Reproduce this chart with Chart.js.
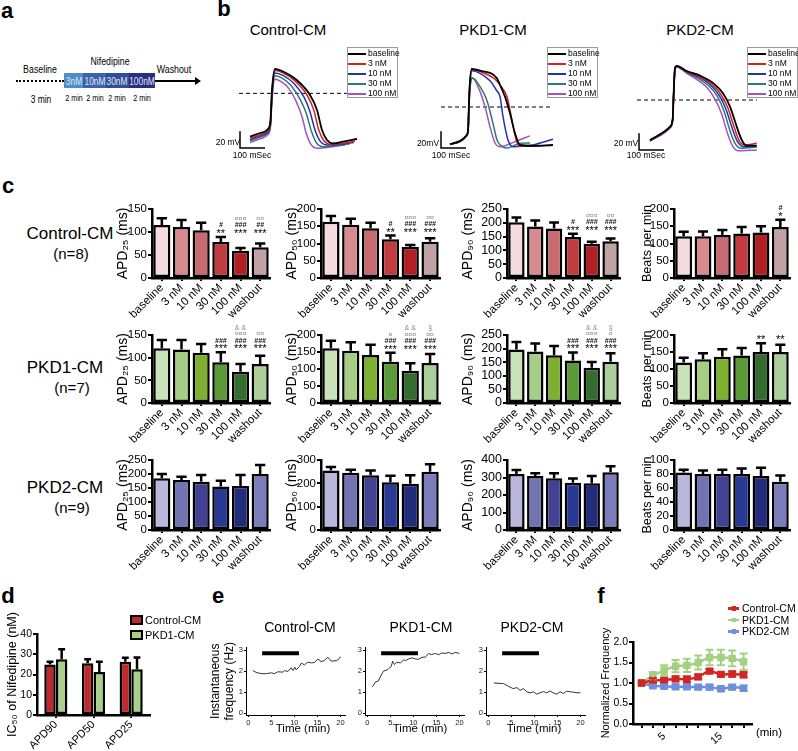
<!DOCTYPE html>
<html>
<head>
<meta charset="utf-8">
<script src="https://cdn.jsdelivr.net/npm/chart.js@4.4.1/dist/chart.umd.min.js"></script>
<style>
  html, body { margin: 0; padding: 0; background: #fff; }
  #fig { position: relative; width: 798px; height: 751px; overflow: hidden;
         font-family: "Liberation Sans", Arial, sans-serif; color: #000; }
  #fig canvas { position: absolute; }
  .t { position: absolute; white-space: nowrap; line-height: 1; transform: translate(-50%, -50%); }
  .tl { position: absolute; white-space: nowrap; line-height: 1; transform: translateY(-50%); }
  .nar { position: absolute; white-space: nowrap; line-height: 1; transform: translate(-50%, -50%) scaleX(0.8); }
  .pl { position: absolute; font-weight: bold; font-size: 22px; line-height: 1; transform: translate(-50%, -50%); }
  .lg { position: absolute; box-sizing: border-box; width: 51px; height: 51px; border: 1px solid #9a9a9a;
        background: #fff; font-size: 8.5px; }
  .lg div { height: 10px; line-height: 10px; white-space: nowrap; }
  .lg span { display: inline-block; width: 18px; height: 2px; vertical-align: middle; margin: 0 2px 0 0; }
</style>
</head>
<body>
<div id="fig"></div>
<script>
/* Nifedipine on Control / PKD1 / PKD2 cardiomyocytes */

// ---- panel a: protocol ----
var aDoses = ['3nM', '10nM', '30nM', '100nM'];
var aDoseTimes = ['2 min', '2 min', '2 min', '2 min'];

// ---- panel b: action potential traces (ms, mV) ----
var B_LEGEND = ['baseline', '3 nM', '10 nM', '30 nM', '100 nM'];

var bCtrlT0 = [140, 180, 212, 222, 228, 240, 272, 327, 380, 408, 428, 448, 472, 512, 568];
var bCtrlV0 = [-72, -67.6, -62.8, -52, -16, 9.2, 6.2, -4, -22, -40, -64, -76, -80, -78, -74.8];
var bCtrlT1 = [140, 180, 212, 222, 228, 240, 272, 320, 368, 395, 415, 436, 462, 510, 560];
var bCtrlV1 = [-74, -69.6, -64.5, -54, -18, 7.5, 4.5, -5, -22, -40, -64, -77, -81, -80, -77.5];
var bCtrlT2 = [140, 180, 212, 222, 228, 240, 272, 315, 355, 380, 400, 422, 450, 505, 555];
var bCtrlV2 = [-75.5, -71, -66, -56, -20, 4.5, 1.5, -8, -24, -42, -64, -78, -82, -81, -79];
var bCtrlT3 = [140, 180, 212, 222, 228, 240, 270, 305, 340, 365, 385, 405, 432, 490, 540];
var bCtrlV3 = [-77, -72.5, -67.5, -58, -24, 1, -2, -11, -27, -44, -65, -79, -84, -82.5, -80.5];
var bCtrlT4 = [140, 180, 212, 222, 228, 240, 268, 295, 325, 348, 365, 383, 410, 470, 520];
var bCtrlV4 = [-79, -74.5, -69.5, -60, -28, -3, -6.5, -14, -30, -48, -68, -81, -86, -84, -82];

var bPkd1T0 = [140, 207, 213, 215, 218, 227, 260, 327, 340, 360, 380, 400, 420, 472, 552];
var bPkd1V0 = [-80.8, -70, -60, -40, -15, 9.2, 7.2, -1.6, -10, -24, -44, -68, -82, -83, -82];
var bPkd1T1 = [140, 207, 213, 215, 218, 227, 260, 320, 345, 368, 385, 400, 415, 470, 552];
var bPkd1V1 = [-81, -70.5, -61, -41, -16, 8.5, 6, -3, -12, -24, -48, -70, -83, -83.5, -82];
var bPkd1T2 = [140, 207, 213, 215, 218, 227, 260, 300, 325, 340, 352, 372, 392, 470, 552];
var bPkd1V2 = [-81, -70.5, -61, -41, -17, 7, 4, -5, -16, -24, -48, -76, -84, -82, -75];
var bPkd1T3 = [140, 207, 213, 215, 218, 231, 260, 287, 312, 328, 345, 368, 420, 460];
var bPkd1V3 = [-81.5, -71, -62, -43, -20, -1.5, -12, -28, -56, -76, -83, -85.5, -80, -79.5];
var bPkd1T4 = [140, 207, 213, 215, 218, 227, 255, 280, 300, 320, 340, 400, 460];
var bPkd1V4 = [-81.5, -71, -62, -44, -24, -1, -14, -36, -60, -79.6, -84, -78, -71];

var bPkd2T0 = [140, 220, 231, 234, 240, 247, 287, 340, 393, 432, 460, 487, 507, 527, 567];
var bPkd2V0 = [-76, -60, -50, -25, 10.8, 13, 6.8, 1.2, -7.8, -20, -36, -60, -76, -82.8, -82.8];
var bPkd2T1 = [140, 220, 231, 234, 240, 247, 287, 338, 388, 425, 452, 478, 497, 520, 567];
var bPkd2V1 = [-76.5, -60.5, -50, -25, 10, 12.5, 6, 0, -9, -22, -38, -62, -77, -82, -80];
var bPkd2T2 = [140, 220, 231, 234, 240, 247, 287, 335, 382, 418, 445, 470, 490, 515, 567];
var bPkd2V2 = [-77, -61, -51, -26, 9.5, 12, 5.5, -0.5, -10, -23, -40, -63, -78, -84, -83];
var bPkd2T3 = [140, 220, 231, 234, 240, 247, 287, 330, 375, 410, 437, 460, 480, 505, 567];
var bPkd2V3 = [-77, -61, -51, -26, 10, 12.5, 5, -1.5, -11, -24, -42, -65, -80, -86, -84.5];
var bPkd2T4 = [140, 220, 231, 234, 240, 247, 287, 325, 368, 400, 427, 450, 470, 495, 567];
var bPkd2V4 = [-77.5, -61.5, -51.5, -27, 9, 11.5, 4, -3, -13, -27, -45, -68, -83, -89, -88];

// dashed reference level [mV, from ms, to ms] and scale bar origin [ms, mV]
var bCtrlDash = [-20, 96, 532], bPkd1Dash = [-36.4, 104, 552], bPkd2Dash = [-28, 88, 568];
var bCtrlBar = [100, -85.6], bPkd1Bar = [104, -85.6], bPkd2Bar = [96, -88];

// ---- panel c: APD and beating rate (mean, SEM) ----
var CATS = ['baseline', '3 nM', '10 nM', '30 nM', '100 nM', 'washout'];

var ctrlApd25 = [115, 111, 104, 78, 59, 67], ctrlApd25Sem = [15, 15, 16, 11, 6, 8];
var ctrlApd50 = [163, 154, 144, 112, 90, 105], ctrlApd50Sem = [17, 18, 16, 11, 6, 10];
var ctrlApd90 = [202, 187, 179, 149, 124, 133], ctrlApd90Sem = [17, 21, 22, 11, 7, 10];
var ctrlBpm = [121, 121, 125, 129, 132, 148], ctrlBpmSem = [13, 14, 14, 19, 18, 21];

var pkd1Apd25 = [121, 118, 111, 90, 69, 86], pkd1Apd25Sem = [18, 21, 19, 22, 17, 18];
var pkd1Apd50 = [161, 154, 141, 121, 95, 118], pkd1Apd50Sem = [22, 25, 30, 27, 22, 26];
var pkd1Apd90 = [197, 189, 176, 156, 130, 152], pkd1Apd90Sem = [27, 30, 34, 30, 21, 31];
var pkd1Bpm = [119, 129, 136, 140, 150, 150], pkd1BpmSem = [14, 17, 22, 22, 26, 21];

var pkd2Apd25 = [185, 179, 172, 155, 157, 200], pkd2Apd25Sem = [15, 11, 24, 21, 39, 32];
var pkd2Apd50 = [255, 245, 235, 205, 198, 250], pkd2Apd50Sem = [15, 13, 20, 27, 37, 32];
var pkd2Apd90 = [320, 309, 296, 270, 267, 330], pkd2Apd90Sem = [23, 15, 28, 25, 42, 35];
var pkd2Bpm = [82, 80, 80, 80, 77, 69], pkd2BpmSem = [4, 5, 6, 8, 12, 9];

// significance marks, top line first
var ctrlApd25Notes = ['', '', '', '#\n**', '\u00a4\u00a4\u00a4\n###\n***', '\u00a4\u00a4\n##\n***'];
var ctrlApd50Notes = ['', '', '', '#\n**', '\u00a4\u00a4\u00a4\n###\n***', '\u00a4\u00a4\n###\n***'];
var ctrlApd90Notes = ['', '', '', '#\n***', '\u00a4\u00a4\u00a4\n###\n***', '\u00a4\u00a4\n###\n***'];
var ctrlBpmNotes = ['', '', '', '', '', '#\n*'];
var pkd1Apd25Notes = ['', '', '', '###\n***', '& &\n\u00a4\u00a4\u00a4\n###\n***', '\u00a4\u00a4\n###\n***'];
var pkd1Apd50Notes = ['', '', '', '\u00a4\n###\n***', '& &\n\u00a4\u00a4\u00a4\n###\n***', '\u00a7\n\u00a4\u00a4\n###\n***'];
var pkd1Apd90Notes = ['', '', '', '###\n***', '& &\n\u00a4\u00a4\u00a4\n###\n***', '\u00a7\n\u00a4\n###\n***'];
var pkd1BpmNotes = ['', '', '', '', '**', '**'];

// ---- panel d: IC50 (nM) ----
var dCats = ['APD90', 'APD50', 'APD25'];
var dCtrl = [25, 25.5, 26.3], dCtrlSem = [1.3, 2, 2];
var dPkd1 = [27.5, 21.2, 22.6], dPkd1Sem = [5, 5.1, 5.8];

// ---- panel e: instantaneous frequency (min, Hz) ----
var eCtrlT = [1.0, 1.7, 2.8, 3.9, 5.0, 5.7, 6.4, 7.5, 7.9, 8.6, 9.3, 9.7, 10.1, 10.4, 11.1, 11.5, 12.2, 12.9, 13.7, 14.4, 15.1, 15.8, 16.5, 17.3, 18.0, 19.1, 19.6, 20.0];
var eCtrlHz = [2.03, 1.94, 1.88, 1.88, 1.92, 1.88, 1.97, 1.95, 2.03, 1.98, 2.16, 2.03, 2.19, 2.06, 2.22, 2.38, 2.30, 2.42, 2.39, 2.41, 2.58, 2.45, 2.50, 2.66, 2.47, 2.50, 2.55, 2.69];
var ePkd1T = [1.0, 1.4, 1.7, 2.4, 2.8, 3.2, 3.5, 4.3, 4.6, 5.2, 5.5, 5.9, 6.4, 7.2, 7.9, 8.3, 9.0, 9.7, 10.4, 11.1, 11.9, 12.6, 13.3, 13.9, 14.8, 15.5, 16.2, 16.9, 17.7, 18.4, 19.1, 20.0];
var ePkd1Hz = [1.25, 1.33, 1.48, 1.53, 1.72, 1.88, 2.00, 2.06, 2.11, 2.22, 2.47, 2.31, 2.42, 2.39, 2.53, 2.50, 2.58, 2.63, 2.58, 2.56, 2.66, 2.66, 2.84, 2.78, 2.84, 2.78, 2.86, 2.84, 2.89, 2.81, 2.89, 2.84];
var ePkd2T = [1.2, 3.3, 4.4, 5.4, 6.2, 6.9, 7.6, 8.4, 9.1, 9.8, 10.5, 11.2, 12.0, 12.7, 13.4, 14.1, 14.9, 15.6, 16.3, 17.0, 17.8, 18.5, 19.3, 20.0];
var ePkd2Hz = [1.44, 1.41, 1.28, 1.17, 1.22, 1.09, 1.17, 1.02, 0.97, 1.02, 0.91, 0.97, 1.03, 0.97, 1.06, 0.97, 0.91, 1.02, 0.94, 1.05, 1.02, 1.00, 0.97, 0.98];
var eDrug = [3, 11], eDrugLevel = 2.85;
var eXTicks = [0, 5, 10, 15, 20], eYTicks = [0, 1, 2, 3];

// ---- panel f: normalized frequency (mean, SEM) ----
var fTime = [1, 3, 5, 7, 9, 11, 13, 15, 17, 19];
var fCtrl = [1.00, 1.06, 1.07, 1.10, 1.09, 1.15, 1.29, 1.21, 1.22, 1.20];
var fCtrlSem = [0, 0.05, 0.05, 0.06, 0.07, 0.06, 0.05, 0.05, 0.06, 0.06];
var fPkd1 = [1.00, 1.18, 1.31, 1.41, 1.43, 1.50, 1.62, 1.62, 1.60, 1.52];
var fPkd1Sem = [0, 0.09, 0.12, 0.15, 0.16, 0.17, 0.19, 0.19, 0.19, 0.2];
var fPkd2 = [1.00, 0.93, 0.92, 0.91, 0.91, 0.90, 0.90, 0.86, 0.90, 0.87];
var fPkd2Sem = [0, 0.04, 0.05, 0.05, 0.05, 0.05, 0.06, 0.05, 0.05, 0.06];
var fYTicks = [0, 0.5, 1, 1.5, 2];

// ---- colours ----
var TRACE_COLORS = ['#000000', '#d42222', '#2232b0', '#2c7a70', '#a452c2'];
var CTRL_FILL = ['#f5dcde', '#d68b8f', '#c86b70', '#c13c41', '#b11e23', '#c1a2a5'];
var PKD1_FILL = ['#c9e2b9', '#a6cd86', '#7cb02e', '#5b9b37', '#346b2f', '#aacf99'];
var PKD2_FILL = ['#bab7dd', '#7273b3', '#424295', '#283a93', '#222b7c', '#7a7cbb'];
var RED = '#c0282c', GREEN = '#a8d088';
var F_COLORS = ['#d42424', '#a2d182', '#6f8fdc'];

var FONT = '"Liberation Sans", Arial, sans-serif';
Chart.defaults.font.family = FONT;
Chart.defaults.color = '#000';
Chart.defaults.animation = false;
Chart.defaults.events = [];
Chart.defaults.plugins.legend.display = false;
Chart.defaults.plugins.tooltip.enabled = false;

var fig = document.getElementById('fig');

function addCanvas(left, top, w, h) {
  var c = document.createElement('canvas');
  c.width = w; c.height = h;
  c.style.left = left + 'px'; c.style.top = top + 'px';
  c.style.width = w + 'px'; c.style.height = h + 'px';
  fig.appendChild(c);
  return c;
}

function put(txt, x, y, size, cls, css) {
  var d = document.createElement('div');
  d.className = cls || 't';
  d.textContent = txt;
  d.style.left = x + 'px'; d.style.top = y + 'px';
  if (size) d.style.fontSize = size + 'px';
  if (css) d.style.cssText += css;
  fig.appendChild(d);
  return d;
}

function block(x, y, w, h, css) {
  var d = document.createElement('div');
  d.style.cssText = 'position:absolute;left:' + x + 'px;top:' + y + 'px;width:' + w + 'px;height:' + h + 'px;' + (css || '');
  fig.appendChild(d);
  return d;
}

function pts(xs, ys) {
  return xs.map(function (x, i) { return { x: x, y: ys[i] }; });
}

/* --- plugins --- */

var errorBars = {
  id: 'errorBars',
  afterDatasetsDraw: function (chart) {
    var ctx = chart.ctx;
    for (var i = chart.data.datasets.length - 1; i >= 0; i--) {
      var ds = chart.data.datasets[i];
      if (!ds.errors) continue;
      var meta = chart.getDatasetMeta(i);
      var ys = chart.scales[meta.yAxisID];
      ctx.save();
      ctx.strokeStyle = ds.errorColor || '#000';
      ctx.lineWidth = ds.errorWidth || 2.5;
      meta.data.forEach(function (el, j) {
        var d = ds.data[j];
        var v = typeof d === 'object' ? d.y : d;
        var e = ds.errors[j];
        if (!e) return;
        var hi = ys.getPixelForValue(v + e);
        var lo = ys.getPixelForValue(ds.bothWays ? v - e : v);
        var half = ds.capHalf || el.width * 0.3;
        ctx.beginPath();
        ctx.moveTo(el.x, lo); ctx.lineTo(el.x, hi);
        ctx.moveTo(el.x - half, hi); ctx.lineTo(el.x + half, hi);
        if (ds.bothWays) { ctx.moveTo(el.x - half, lo); ctx.lineTo(el.x + half, lo); }
        ctx.stroke();
      });
      ctx.restore();
    }
  }
};

var starNotes = {
  id: 'starNotes',
  afterDatasetsDraw: function (chart) {
    var ds = chart.data.datasets[0];
    if (!ds.notes) return;
    var meta = chart.getDatasetMeta(0), ys = chart.scales.y, ctx = chart.ctx;
    var top = Infinity;
    ds.notes.forEach(function (n, j) {
      if (n) top = Math.min(top, ys.getPixelForValue(ds.data[j] + ds.errors[j]));
    });
    if (top === Infinity) return;
    ctx.save();
    ctx.textAlign = 'center';
    ctx.textBaseline = 'middle';
    ds.notes.forEach(function (n, j) {
      if (!n) return;
      var y = top - 5;
      n.split('\n').reverse().forEach(function (line) {
        var ch = line.charAt(0), dy = 0;
        if (ch === '*') { ctx.font = '11px ' + FONT; ctx.fillStyle = '#000'; dy = 2; }
        else if (ch === '#') { ctx.font = 'italic bold 7px ' + FONT; ctx.fillStyle = '#111'; }
        else { ctx.font = '7px ' + FONT; ctx.fillStyle = '#8a8a8a'; }
        ctx.fillText(line, meta.data[j].x, y + dy);
        y -= 6.5;
      });
    });
    ctx.restore();
  }
};

/* --- panel a --- */

function drawProtocol() {
  var edges = [64, 83, 106, 128.5, 155];
  var fills = ['#4e8ec9', '#3964ac', '#2f4d9b', '#272f80'];
  var mids = [73.5, 94.5, 117.3, 141.8];
  put('Baseline', 40, 69, 11, 'nar');
  put('Nifedipine', 110, 61, 11, 'nar');
  put('Washout', 174, 69, 11, 'nar');
  put('3 min', 41, 99, 10.5, 'nar');
  block(16, 80, 48, 0, 'border-top:2px dotted #000;');
  aDoses.forEach(function (d, i) {
    block(edges[i], 73, edges[i + 1] - edges[i], 15, 'background:' + fills[i] + ';');
    put(d, mids[i], 81, 10.5, 'nar', 'color:#e4e6f2;');
    put(aDoseTimes[i], mids[i], 98, 9, 'nar', 'color:#000;');
  });
  block(155, 80, 41, 2, 'background:#000;');
  block(195, 77, 0, 0, 'border-left:6px solid #000;border-top:4px solid transparent;border-bottom:4px solid transparent;');
}

/* --- panel b --- */

function tracePanel(left, series, dash, bar) {
  var c = addCanvas(left, 40, 190, 120);
  var ds = series.map(function (s, i) {
    return { data: pts(s[0], s[1]), borderColor: TRACE_COLORS[i], borderWidth: i === 0 ? 1.8 : 1.5,
             pointRadius: 0, cubicInterpolationMode: 'monotone', fill: false };
  });
  ds.push({ data: [{ x: dash[1], y: dash[0] }, { x: dash[2], y: dash[0] }], borderColor: '#000',
            borderWidth: 1, borderDash: [4, 3], pointRadius: 0 });
  ds.push({ data: [{ x: bar[0], y: bar[1] + 20 }, { x: bar[0], y: bar[1] }, { x: bar[0] + 100, y: bar[1] }],
            borderColor: '#000', borderWidth: 1.5, pointRadius: 0 });
  new Chart(c, {
    type: 'line',
    data: { datasets: ds },
    options: {
      responsive: false,
      layout: { padding: 0 },
      scales: {
        x: { type: 'linear', display: false, min: 0, max: 760 },
        y: { type: 'linear', display: false, min: -100, max: 44 }
      }
    }
  });
}

function traceLegend(left) {
  var box = document.createElement('div');
  box.className = 'lg';
  box.style.left = left + 'px';
  box.style.top = '47px';
  B_LEGEND.forEach(function (name, i) {
    var row = document.createElement('div');
    var sw = document.createElement('span');
    sw.style.background = TRACE_COLORS[i];
    row.appendChild(sw);
    row.appendChild(document.createTextNode(name));
    box.appendChild(row);
  });
  fig.appendChild(box);
}

/* --- shared axis styling --- */

function axisOpts(thin) {
  return {
    grid: { display: true, drawOnChartArea: false, drawTicks: true, tickLength: thin ? 2 : 4,
            color: '#000', lineWidth: thin ? 1 : 2 },
    border: { display: true, color: '#000', width: thin ? 1 : 2.5 }
  };
}

function fixedTicks(list) {
  return function (s) { s.ticks = list.map(function (v) { return { value: v }; }); };
}

/* --- panel c --- */

function barPanel(col, row, o) {
  var padTop = 40, padR = 6, xH = 48;
  var c = addCanvas(col.axisX - col.yW, row.top - padTop, col.yW + col.w + padR, padTop + row.h + xH);
  var xs = axisOpts();
  xs.grid.offset = false;
  xs.grid.tickLength = 3;
  xs.ticks = { autoSkip: false, minRotation: 45, maxRotation: 45, padding: 0, font: { size: 11.5 } };
  xs.afterFit = function (s) { s.height = xH; };
  var ysc = axisOpts();
  ysc.min = 0; ysc.max = o.max;
  ysc.ticks = { autoSkip: false, stepSize: o.step, padding: 1, font: { size: col.tick } };
  ysc.title = { display: true, text: o.title, padding: 0, font: { size: o.titleSize || 14 } };
  ysc.afterFit = function (s) { s.width = col.yW; };
  new Chart(c, {
    type: 'bar',
    data: {
      labels: CATS,
      datasets: [{ data: o.values, errors: o.sem, notes: o.notes, backgroundColor: o.colors,
                   borderColor: '#000', borderWidth: 2.5, borderSkipped: false,
                   barPercentage: 0.87, categoryPercentage: 1 }]
    },
    options: {
      responsive: false,
      layout: { padding: { top: padTop, right: padR, left: 0, bottom: 0 } },
      scales: { x: xs, y: ysc }
    },
    plugins: [errorBars, starNotes]
  });
}

/* --- panel d --- */

function ic50Panel() {
  var yW = 32, padTop = 30, padR = 6, xH = 36, w = 113, h = 81;
  var c = addCanvas(37 - yW, 634 - padTop, yW + w + padR, padTop + h + xH);
  var xs = axisOpts();
  xs.grid.offset = false;
  xs.grid.tickLength = 3;
  xs.ticks = { autoSkip: false, minRotation: 45, maxRotation: 45, padding: 0, font: { size: 11 } };
  xs.afterFit = function (s) { s.height = xH; };
  var ysc = axisOpts();
  ysc.min = 0; ysc.max = 40;
  ysc.ticks = { autoSkip: false, stepSize: 10, padding: 1, font: { size: 10.5 } };
  ysc.title = { display: true, text: 'IC\u2085\u2080 of Nifedipine (nM)', padding: 0, font: { size: 12.5 } };
  ysc.afterFit = function (s) { s.width = yW; };
  var common = { borderColor: '#000', borderWidth: 2.5, borderSkipped: false, barPercentage: 0.98, categoryPercentage: 0.62 };
  new Chart(c, {
    type: 'bar',
    data: {
      labels: dCats,
      datasets: [
        Object.assign({ data: dCtrl, errors: dCtrlSem, backgroundColor: RED }, common),
        Object.assign({ data: dPkd1, errors: dPkd1Sem, backgroundColor: GREEN }, common)
      ]
    },
    options: {
      responsive: false,
      layout: { padding: { top: padTop, right: padR, left: 0, bottom: 0 } },
      scales: { x: xs, y: ysc }
    },
    plugins: [errorBars]
  });
  [['Control-CM', RED, 619.5], ['PKD1-CM', GREEN, 634.5]].forEach(function (it) {
    block(130, it[2] - 5, 13, 10, 'box-sizing:border-box;border:2px solid #000;background:' + it[1] + ';');
    put(it[0], 145, it[2], 11, 'tl');
  });
}

/* --- panels e and f: line charts on linear axes --- */

function linePanel(p) {
  var c = addCanvas(p.axisX - p.yW, p.top - p.padTop, p.yW + p.w + p.padR, p.padTop + p.h + p.xH);
  var xs = axisOpts(p.thin);
  xs.type = 'linear'; xs.min = p.xMin; xs.max = p.xMax;
  xs.ticks = { autoSkip: false, padding: p.tickPad, font: { size: p.tickSize }, color: p.tickColor || '#000' };
  if (p.xLabel) xs.ticks.callback = p.xLabel;
  xs.afterBuildTicks = fixedTicks(p.xTicks);
  xs.afterFit = function (s) { s.height = p.xH; };
  var ysc = axisOpts(p.thin);
  ysc.type = 'linear'; ysc.min = p.yMin; ysc.max = p.yMax;
  ysc.ticks = { autoSkip: false, padding: 1, font: { size: p.tickSize }, color: p.tickColor || '#000' };
  if (p.yLabel) ysc.ticks.callback = p.yLabel;
  ysc.afterBuildTicks = fixedTicks(p.yTicks);
  ysc.afterFit = function (s) { s.width = p.yW; };
  if (p.title) ysc.title = { display: true, text: p.title, padding: 0, font: { size: p.titleSize, lineHeight: 1.15 } };
  new Chart(c, {
    type: 'line',
    data: { datasets: p.datasets },
    options: {
      responsive: false,
      layout: { padding: { top: p.padTop, right: p.padR, left: 0, bottom: 0 } },
      scales: { x: xs, y: ysc }
    },
    plugins: [errorBars]
  });
}

function freqPanel(axisX, times, hz, withTitle) {
  linePanel({
    axisX: axisX, top: 647, w: 99, h: 68, yW: withTitle ? 37 : 12, padTop: 5, padR: 4, xH: 14,
    thin: true, tickPad: 1, tickSize: 7.5, tickColor: '#222',
    xMin: -0.5, xMax: 21, yMin: -0.08, yMax: 3.12, xTicks: eXTicks, yTicks: eYTicks,
    title: withTitle ? ['Instantaneous', 'frequency (Hz)'] : null, titleSize: 12,
    datasets: [
      { data: [{ x: eDrug[0], y: eDrugLevel }, { x: eDrug[1], y: eDrugLevel }], borderColor: '#000', borderWidth: 4, pointRadius: 0 },
      { data: pts(times, hz), borderColor: '#333', borderWidth: 1, pointRadius: 0, tension: 0 }
    ]
  });
}

function normPanel() {
  var series = [[fCtrl, fCtrlSem], [fPkd1, fPkd1Sem], [fPkd2, fPkd2Sem]];
  linePanel({
    axisX: 633, top: 642, w: 119, h: 82, yW: 33, padTop: 30, padR: 6, xH: 20,
    thin: false, tickPad: 2, tickSize: 10.5,
    xMin: -0.5, xMax: 20.4, yMin: 0, yMax: 2, xTicks: fTime, yTicks: fYTicks,
    xLabel: function (v) { return (v === 5 || v === 15) ? String(v) : ''; },
    yLabel: function (v) { return Number(v).toFixed(1); },
    title: 'Normalized Frequency', titleSize: 11,
    datasets: series.map(function (s, i) {
      return { data: pts(fTime, s[0]), errors: s[1], bothWays: true, capHalf: 4, errorColor: F_COLORS[i], errorWidth: 2,
               borderColor: F_COLORS[i], backgroundColor: F_COLORS[i], borderWidth: 2.5,
               pointStyle: 'rect', pointRadius: 3.5, tension: 0.3 };
    })
  });
  put('(min)', 769, 733, 11.5);
  ['Control-CM', 'PKD1-CM', 'PKD2-CM'].forEach(function (name, i) {
    var y = 608 + i * 11.5;
    block(728, y - 1, 11, 2.5, 'background:' + F_COLORS[i] + ';');
    block(731.5, y - 2, 4, 4.5, 'background:' + F_COLORS[i] + ';');
    put(name, 742, y, 10.5, 'tl');
  });
}

/* --- Main --- */

function init() {
  ['a', 'b', 'c', 'd', 'e', 'f'].forEach(function (l, i) {
    var p = [[7, 11], [224, 9], [8, 186], [8, 596], [218, 596], [601, 596]][i];
    put(l, p[0], p[1], null, 'pl');
  });

  drawProtocol();

  put('Control-CM', 288, 29, 15);
  put('PKD1-CM', 493, 29, 15);
  put('PKD2-CM', 700, 29, 15);
  tracePanel(215, [[bCtrlT0, bCtrlV0], [bCtrlT1, bCtrlV1], [bCtrlT2, bCtrlV2], [bCtrlT3, bCtrlV3], [bCtrlT4, bCtrlV4]], bCtrlDash, bCtrlBar);
  tracePanel(415, [[bPkd1T0, bPkd1V0], [bPkd1T1, bPkd1V1], [bPkd1T2, bPkd1V2], [bPkd1T3, bPkd1V3], [bPkd1T4, bPkd1V4]], bPkd1Dash, bPkd1Bar);
  tracePanel(615, [[bPkd2T0, bPkd2V0], [bPkd2T1, bPkd2V1], [bPkd2T2, bPkd2V2], [bPkd2T3, bPkd2V3], [bPkd2T4, bPkd2V4]], bPkd2Dash, bPkd2Bar);
  traceLegend(347); traceLegend(547); traceLegend(747);
  put('20 mV', 228, 141.5, 8.5); put('100 mSec', 252, 154.5, 8.5);
  put('20mV', 428, 143, 8.5); put('100 mSec', 451, 155, 8.5);
  put('20 mV', 626, 143, 8.5); put('100 mSec', 646, 155, 8.5);

  var cols = [
    { axisX: 152, w: 118, yW: 37, tick: 11.5 },
    { axisX: 321, w: 119, yW: 37, tick: 11.5 },
    { axisX: 507, w: 113, yW: 47, tick: 12.5 },
    { axisX: 674, w: 116, yW: 34, tick: 11.5 }
  ];
  var rows = [{ top: 209, h: 69 }, { top: 335, h: 68 }, { top: 460, h: 70 }];
  var T25 = 'APD\u2082\u2085 (ms)', T50 = 'APD\u2085\u2080 (ms)', T90 = 'APD\u2089\u2080 (ms)', TB = 'Beats per min';

  put('Control-CM', 70, 233, 17); put('(n=8)', 71, 253, 15);
  barPanel(cols[0], rows[0], { values: ctrlApd25, sem: ctrlApd25Sem, notes: ctrlApd25Notes, colors: CTRL_FILL, max: 150, step: 50, title: T25 });
  barPanel(cols[1], rows[0], { values: ctrlApd50, sem: ctrlApd50Sem, notes: ctrlApd50Notes, colors: CTRL_FILL, max: 200, step: 50, title: T50 });
  barPanel(cols[2], rows[0], { values: ctrlApd90, sem: ctrlApd90Sem, notes: ctrlApd90Notes, colors: CTRL_FILL, max: 250, step: 50, title: T90 });
  barPanel(cols[3], rows[0], { values: ctrlBpm, sem: ctrlBpmSem, notes: ctrlBpmNotes, colors: CTRL_FILL, max: 200, step: 50, title: TB, titleSize: 12.5 });

  put('PKD1-CM', 65, 367, 17); put('(n=7)', 72, 387, 15);
  barPanel(cols[0], rows[1], { values: pkd1Apd25, sem: pkd1Apd25Sem, notes: pkd1Apd25Notes, colors: PKD1_FILL, max: 150, step: 50, title: T25 });
  barPanel(cols[1], rows[1], { values: pkd1Apd50, sem: pkd1Apd50Sem, notes: pkd1Apd50Notes, colors: PKD1_FILL, max: 200, step: 50, title: T50 });
  barPanel(cols[2], rows[1], { values: pkd1Apd90, sem: pkd1Apd90Sem, notes: pkd1Apd90Notes, colors: PKD1_FILL, max: 250, step: 50, title: T90 });
  barPanel(cols[3], rows[1], { values: pkd1Bpm, sem: pkd1BpmSem, notes: pkd1BpmNotes, colors: PKD1_FILL, max: 200, step: 50, title: TB, titleSize: 12.5 });

  put('PKD2-CM', 65, 487, 17); put('(n=9)', 72, 507, 15);
  barPanel(cols[0], rows[2], { values: pkd2Apd25, sem: pkd2Apd25Sem, colors: PKD2_FILL, max: 250, step: 50, title: T25 });
  barPanel(cols[1], rows[2], { values: pkd2Apd50, sem: pkd2Apd50Sem, colors: PKD2_FILL, max: 300, step: 100, title: T50 });
  barPanel(cols[2], rows[2], { values: pkd2Apd90, sem: pkd2Apd90Sem, colors: PKD2_FILL, max: 400, step: 100, title: T90 });
  barPanel(cols[3], rows[2], { values: pkd2Bpm, sem: pkd2BpmSem, colors: PKD2_FILL, max: 100, step: 20, title: TB, titleSize: 12.5 });

  ic50Panel();

  put('Control-CM', 300, 627, 14);
  put('PKD1-CM', 421, 627, 14);
  put('PKD2-CM', 532, 627, 14);
  freqPanel(246, eCtrlT, eCtrlHz, true);
  freqPanel(365, ePkd1T, ePkd1Hz, false);
  freqPanel(486, ePkd2T, ePkd2Hz, false);
  put('Time (min)', 303, 729, 11.5);
  put('Time (min)', 420, 729, 11.5);
  put('Time (min)', 534, 729, 11.5);

  normPanel();
}

init();
</script>
</body>
</html>
